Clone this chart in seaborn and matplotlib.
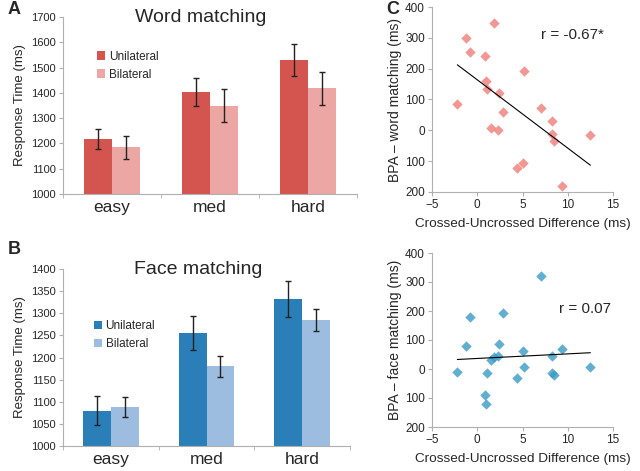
import numpy as np
import pandas as pd
import seaborn as sns
import matplotlib.pyplot as plt
from matplotlib.ticker import MultipleLocator, FixedLocator

# bar data (Response Time, ms)
levels = ['easy', 'med', 'hard']
conds = ['Unilateral', 'Bilateral']
word_uni = [1218, 1403, 1530]
word_bi = [1184, 1349, 1418]
word_uni_err = [40, 55, 62]
word_bi_err = [44, 66, 65]
face_uni = [1080, 1256, 1333]
face_bi = [1088, 1180, 1285]
face_uni_err = [33, 38, 41]
face_bi_err = [23, 23, 25]

# scatter data (same subjects)
cross_diff = [-2.2, -1.2, -0.8, 0.9, 1.8, 1.0, 1.1, 2.4, 2.9, 1.5,
              2.3, 5.2, 4.4, 5.1, 7.0, 8.3, 8.3, 8.5, 9.4, 12.5]
bpa_word = [86, 298, 254, 242, 349, 160, 133, 122, 58, 8,
            1, 193, -121, -106, 74, 30, -11, -36, -180, -14]
cross_diff_face = [-2.2, -1.2, -0.8, 0.9, 1.0, 1.1, 1.5, 1.8, 2.3, 2.4,
                   2.9, 4.4, 5.1, 5.2, 7.0, 8.3, 8.3, 8.5, 9.4, 12.5]
bpa_face = [-12, 78, 178, -91, -122, -15, 31, 40, 45, 85,
            192, -31, 61, 6, 320, 45, -15, -20, 68, 8]
scatter_yticks = [400, 300, 200, 100, 0, -100, -200]
scatter_ylabels = ['400', '300', '200', '100', '0', '100', '200']

sns.set_style("white")
plt.rcParams['font.family'] = ['Liberation Sans', 'DejaVu Sans']

fig = plt.figure(figsize=(6.4, 4.71), dpi=100)

spine_col = '#b0b0b0'


def bar_panel(ax, uni, bi, uni_err, bi_err, colors, title, ylim, step, leg_xy):
    df = pd.DataFrame({
        'level': levels * 2,
        'cond': [conds[0]] * 3 + [conds[1]] * 3,
        'rt': uni + bi,
    })
    sns.barplot(data=df, x='level', y='rt', hue='cond', palette=colors,
                width=0.58, linewidth=0, saturation=1, ax=ax)
    for cont, errs in zip(ax.containers, [uni_err, bi_err]):
        xs = [b.get_x() + b.get_width() / 2 for b in cont]
        hs = [b.get_height() for b in cont]
        ax.errorbar(xs, hs, yerr=errs, fmt='none', ecolor='#222222',
                    elinewidth=1, capsize=2.5, capthick=1)
    ax.set_ylim(*ylim)
    ax.set_xlim(-0.5, 2.5)
    ax.yaxis.set_major_locator(MultipleLocator(step))
    ax.set_xlabel('')
    ax.set_ylabel('Response Time (ms)', fontsize=9.5, labelpad=4)
    ax.tick_params(axis='y', labelsize=8, length=3, color=spine_col,
                   direction='out', left=True, pad=2)
    ax.tick_params(axis='x', which='major', labelsize=12.5, length=0, pad=4)
    ax.xaxis.set_minor_locator(FixedLocator([-0.5, 0.5, 1.5, 2.5]))
    ax.tick_params(axis='x', which='minor', length=3, color=spine_col,
                   direction='out', bottom=True)
    for s in ['top', 'right']:
        ax.spines[s].set_visible(False)
    for s in ['left', 'bottom']:
        ax.spines[s].set_color(spine_col)
    ax.text(0.47, 1.0, title, transform=ax.transAxes, ha='center',
            va='center', fontsize=14)
    ax.legend(loc='upper left', bbox_to_anchor=leg_xy, frameon=False,
              fontsize=8.5, handlelength=0.7, handleheight=0.7,
              handletextpad=0.3, labelspacing=0.5)
    return ax


ax_a = fig.add_axes([63 / 640, 1 - 194 / 471, 294 / 640, 177 / 471])
bar_panel(ax_a, word_uni, word_bi, word_uni_err, word_bi_err,
          ['#d45550', '#eca6a3'], 'Word matching', (1000, 1700), 100,
          (0.08, 0.87))

ax_b = fig.add_axes([63 / 640, 1 - 446 / 471, 287 / 640, 177 / 471])
bar_panel(ax_b, face_uni, face_bi, face_uni_err, face_bi_err,
          ['#2a7fb8', '#9cbde0'], 'Face matching', (1000, 1400), 50,
          (0.07, 0.77))


def scatter_panel(ax, x, y, color, ylabel, rtext, rxy):
    sns.regplot(x=x, y=y, ci=None, ax=ax, marker='D',
                scatter_kws={'s': 28, 'color': color, 'linewidths': 0},
                line_kws={'color': 'black', 'linewidth': 0.8})
    ax.set_xlim(-5, 15)
    ax.set_ylim(-200, 400)
    ax.xaxis.set_major_locator(MultipleLocator(5))
    ax.set_yticks(scatter_yticks)
    ax.set_yticklabels(scatter_ylabels)
    ax.tick_params(labelsize=8.5, length=3, color=spine_col, direction='out',
                   left=True, bottom=True, pad=2)
    for s in ['top', 'right']:
        ax.spines[s].set_visible(False)
    for s in ['left', 'bottom']:
        ax.spines[s].set_color(spine_col)
    ax.set_xlabel('Crossed-Uncrossed Difference (ms)', fontsize=9.7, labelpad=5)
    ax.set_ylabel(ylabel, fontsize=10, labelpad=2)
    ax.text(rxy[0], rxy[1], rtext, transform=ax.transAxes, fontsize=11,
            ha='left', va='center')


ax_c1 = fig.add_axes([432 / 640, 1 - 192 / 471, 181 / 640, 185 / 471])
scatter_panel(ax_c1, cross_diff, bpa_word, '#ef7f79',
              'BPA \u2013 word matching (ms)', 'r = -0.67*', (0.60, 0.85))

ax_c2 = fig.add_axes([432 / 640, 1 - 427 / 471, 181 / 640, 174 / 471])
scatter_panel(ax_c2, cross_diff_face, bpa_face, '#3a9ac8',
              'BPA \u2013 face matching (ms)', 'r = 0.07', (0.70, 0.68))

fig.text(8 / 640, 1 - 10 / 471, 'A', fontsize=13, fontweight='bold', va='center')
fig.text(8 / 640, 1 - 250 / 471, 'B', fontsize=13, fontweight='bold', va='center')
fig.text(386 / 640, 1 - 10 / 471, 'C', fontsize=13, fontweight='bold', va='center')

fig.savefig('out.png', dpi=100)
